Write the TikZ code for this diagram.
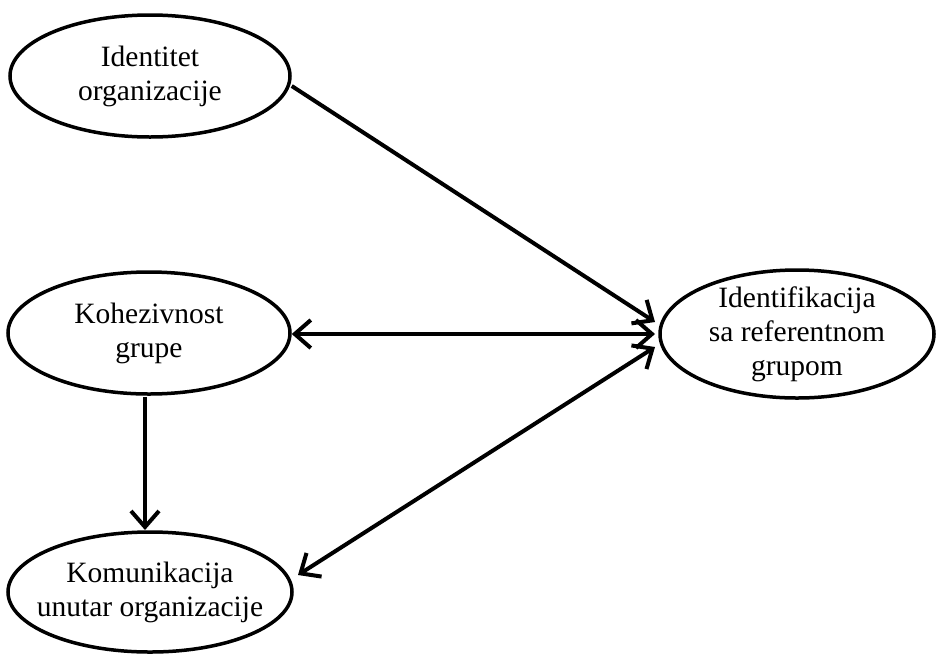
\documentclass[tikz,border=0pt]{standalone}
\usepackage{fontspec}
\setmainfont{Liberation Serif}
\usetikzlibrary{shapes.geometric,arrows.meta}
\begin{document}
\begin{tikzpicture}[x=1pt,y=-1pt,
  factor/.style={ellipse,draw,line width=3.5pt,inner sep=0pt},
  caption/.style={align=center,font=\fontsize{29.5}{34}\selectfont},
  barb/.style={Straight Barb[length=16pt,width=28pt,line width=4pt]},
  link/.style={line width=4pt,-{Straight Barb[length=16pt,width=28pt,line width=4pt]}},
  twoway/.style={line width=4pt,{Straight Barb[length=16pt,width=28pt,line width=4pt]}-{Straight Barb[length=16pt,width=28pt,line width=4pt]}}]
\useasboundingbox (0,0) rectangle (936,654);
\node[factor,minimum width=280,minimum height=122] (ident) at (150,76) {};
\node[caption] (identT) at (ident.center) {Identitet\\organizacije};
\node[factor,minimum width=282,minimum height=122] (kohez) at (149,333) {};
\node[caption] (kohezT) at (kohez.center) {Kohezivnost\\grupe};
\node[factor,minimum width=284,minimum height=120] (komun) at (150,592) {};
\node[caption] (komunT) at (komun.center) {Komunikacija\\unutar organizacije};
\node[factor,minimum width=274,minimum height=128] (refer) at (797,334) {};
\node[caption] (referT) at (refer.center) {Identifikacija\\sa referentnom\\grupom};
\coordinate (rA) at (655,322);
\coordinate (rB) at (655,334);
\coordinate (rC) at (655,347);
\coordinate (iA) at (ident.east |- 0,86);
\coordinate (kC) at (298,575);
\coordinate (kS) at (145,397);
\coordinate (kE) at (145,530);
\draw[link] (iA) -- (rA);
\draw[twoway] (kohez.east |- rB) -- (rB);
\draw[twoway] (rC) -- (kC);
\draw[link] (kS) -- (kE);
\end{tikzpicture}
\end{document}
